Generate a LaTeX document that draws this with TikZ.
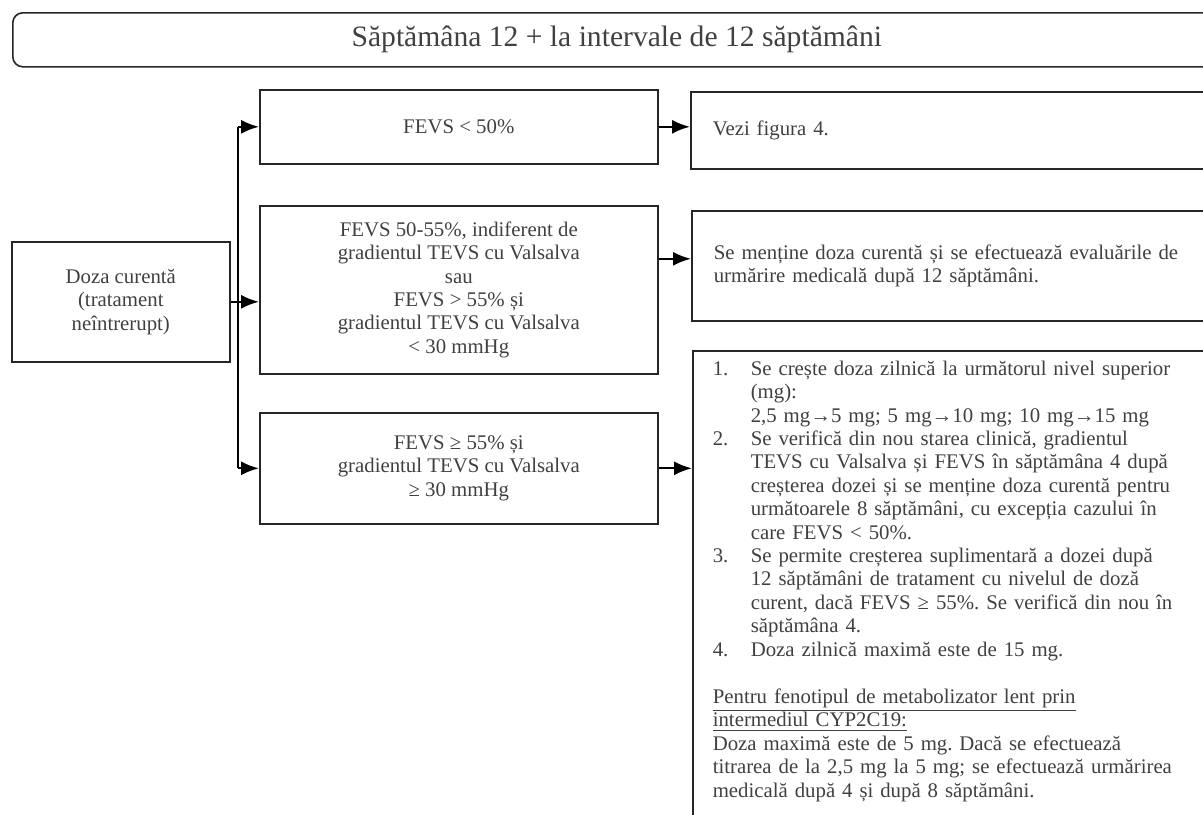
\documentclass[tikz,border=0pt]{standalone}
\usepackage{fontspec}
\setmainfont{Liberation Serif}
\usetikzlibrary{positioning,arrows.meta}
\newcommand{\nr}[1]{\makebox[19pt][l]{#1}}
\newcommand{\cont}{\hspace*{19pt}}
\frenchspacing

\begin{document}
\begin{tikzpicture}[x=0.5pt,y=-0.5pt,font=\fontsize{10.4}{11.7}\selectfont]
                \tikzstyle{box} = [rectangle, draw=black!85, line width=0.8pt, text=black!75, inner sep=0pt, anchor=north west]
                \tikzstyle{cond} = [box, align=center, minimum width=199pt]
                \tikzstyle{result} = [box, align=left, inner xsep=11pt, text width=243pt]
                \tikzstyle{arrow} = [line width=1.1pt, ->, >={Latex[length=9pt,width=7pt]}]
                \useasboundingbox (0,0) rectangle (1203,814);

                \node (title) [box, rounded corners=5pt, align=center, minimum width=604pt, minimum height=27pt, font=\fontsize{14.8}{17}\selectfont] at (12,12) {Săptămâna 12 + la intervale de 12 săptămâni};
                \node (doza) [box, align=center, minimum width=109pt, minimum height=60pt] at (11,241) {Doza curentă\\(tratament\\neîntrerupt)};
                \node (fevs1) [cond, minimum height=37pt] at (259,89) {FEVS < 50\%};
                \node (fevs2) [cond, minimum height=84pt] at (259,205) {FEVS 50-55\%, indiferent de\\gradientul TEVS cu Valsalva\\sau\\FEVS > 55\% și\\gradientul TEVS cu Valsalva\\< 30 mmHg};
                \node (fevs3) [cond, minimum height=55.5pt] at (259,412) {FEVS ≥ 55\% și\\gradientul TEVS cu Valsalva\\≥ 30 mmHg};
                \node (vezi) [result, minimum height=38.5pt] at (690,91) {Vezi figura 4.};
                \node (mentine) [result, minimum height=55pt] at (691,210) {Se menține doza curentă și se efectuează evaluările de\\urmărire medicală după 12 săptămâni.};
                \node (creste) [result, inner xsep=10pt, inner ysep=5pt, text width=250pt] at (692,350) {\nr{1.}Se crește doza zilnică la următorul nivel superior\\\cont(mg):\\\cont 2,5 mg→5 mg; 5 mg→10 mg; 10 mg→15 mg\\\nr{2.}Se verifică din nou starea clinică, gradientul\\\cont TEVS cu Valsalva și FEVS în săptămâna 4 după\\\cont creșterea dozei și se menține doza curentă pentru\\\cont următoarele 8 săptămâni, cu excepția cazului în\\\cont care FEVS < 50\%.\\\nr{3.}Se permite creșterea suplimentară a dozei după\\\cont 12 săptămâni de tratament cu nivelul de doză\\\cont curent, dacă FEVS ≥ 55\%. Se verifică din nou în\\\cont săptămâna 4.\\\nr{4.}Doza zilnică maximă este de 15 mg.\\[12pt]\underline{Pentru fenotipul de metabolizator lent prin}\\\underline{intermediul CYP2C19:}\\Doza maximă este de 5 mg. Dacă se efectuează\\titrarea de la 2,5 mg la 5 mg; se efectuează urmărirea\\medicală după 4 și după 8 săptămâni.\\[6pt]\mbox{}};
                \coordinate [right=3.5pt of doza.east] (split);

                \draw [arrow] (doza.east) -- (doza.east -| fevs2.west);
                \draw [line width=1.1pt] (split |- fevs1.west) -- (split |- fevs3.west);
                \draw [arrow] (split |- fevs1.west) -- (fevs1.west);
                \draw [arrow] (split |- fevs3.west) -- (fevs3.west);
                \draw [arrow] (fevs1.east) -- (fevs1.east -| vezi.west);
                \draw [arrow] ([yshift=3.5pt]mentine.west -| fevs2.east) -- ([yshift=3.5pt]mentine.west);
                \draw [arrow] (fevs3.east) -- (fevs3.east -| creste.west);
            \end{tikzpicture}
\end{document}
